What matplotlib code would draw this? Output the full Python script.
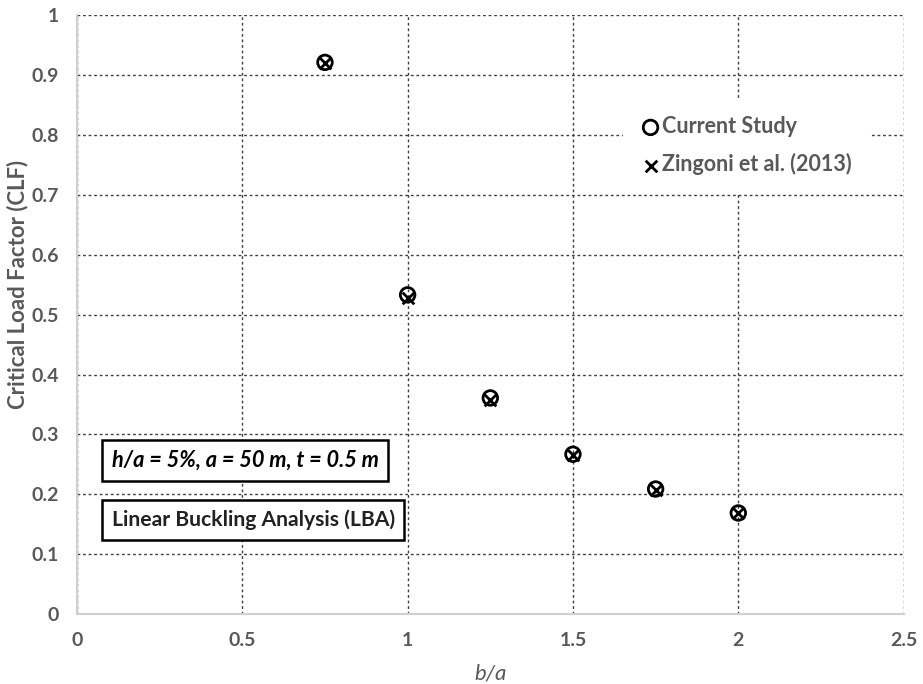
import matplotlib
matplotlib.use("Agg")
import matplotlib.pyplot as plt

plt.rcParams['font.family'] = ['Lato', 'DejaVu Sans']

# b/a ratios and critical load factors
ratio = [0.75, 1.0, 1.25, 1.5, 1.75, 2.0]
clf_current = [0.921, 0.533, 0.361, 0.267, 0.209, 0.169]
clf_zingoni = [0.920, 0.528, 0.358, 0.266, 0.208, 0.169]

x_ticks = [0, 0.5, 1, 1.5, 2, 2.5]
x_ticklabels = ['0', '0.5', '1', '1.5', '2', '2.5']
y_ticks = [0, 0.1, 0.2, 0.3, 0.4, 0.5, 0.6, 0.7, 0.8, 0.9, 1]
y_ticklabels = ['0', '0.1', '0.2', '0.3', '0.4', '0.5', '0.6', '0.7', '0.8', '0.9', '1']

GRAY = '#595959'

fig = plt.figure(figsize=(9.23, 6.84), dpi=100)
ax = fig.add_axes([0.0834, 0.102, 0.8956, 0.876])

ax.scatter(ratio, clf_current, s=110, marker='o', facecolors='none',
           edgecolors='black', linewidths=2, label='Current Study', zorder=3)
ax.scatter(ratio, clf_zingoni, s=70, marker='x', color='black',
           linewidths=2, label='Zingoni et al. (2013)', zorder=4)

ax.set_xlim(0, 2.5)
ax.set_ylim(0, 1)
ax.set_xticks(x_ticks)
ax.set_xticklabels(x_ticklabels)
ax.set_yticks(y_ticks)
ax.set_yticklabels(y_ticklabels)
ax.tick_params(length=0, pad=13, labelsize=14, labelcolor=GRAY)
for lbl in ax.get_xticklabels() + ax.get_yticklabels():
    lbl.set_fontweight('bold')

ax.grid(True, color='#404040', linestyle=(0, (2, 2)), linewidth=1)
for side in ['top', 'right']:
    ax.spines[side].set_visible(False)
for side in ['left', 'bottom']:
    ax.spines[side].set_color('#d0d0d0')
    ax.spines[side].set_linewidth(1.5)

ax.set_xlabel('b/a', fontsize=16, style='italic', color=GRAY, labelpad=10)
ax.set_ylabel('Critical Load Factor (CLF)', fontsize=16, fontweight='bold',
              color=GRAY, va='center')
ax.yaxis.set_label_coords(-0.072, 0.55)

leg = ax.legend(loc='center left', bbox_to_anchor=(0.66, 0.782), frameon=True,
                fontsize=15.5, handletextpad=0.05, labelspacing=0.75,
                borderpad=0.8, handlelength=1.0, borderaxespad=0)
leg.get_frame().set_edgecolor('white')
leg.get_frame().set_facecolor('white')
leg.get_frame().set_alpha(1)
for t in leg.get_texts():
    t.set_color(GRAY)
    t.set_fontweight('bold')

box = dict(boxstyle='square,pad=0.45', facecolor='white', edgecolor='black', linewidth=1.8)
ax.text(0.042, 0.257, 'h/a = 5%, a = 50 m, t = 0.5 m', transform=ax.transAxes,
        fontsize=15.7, style='italic', fontweight='bold', va='center', ha='left',
        bbox=box, zorder=5)
ax.text(0.042, 0.157, 'Linear Buckling Analysis (LBA)', transform=ax.transAxes,
        fontsize=15.2, fontweight='bold', color='#222222', va='center', ha='left',
        bbox=box, zorder=5)

fig.savefig('out.png', dpi=100)
